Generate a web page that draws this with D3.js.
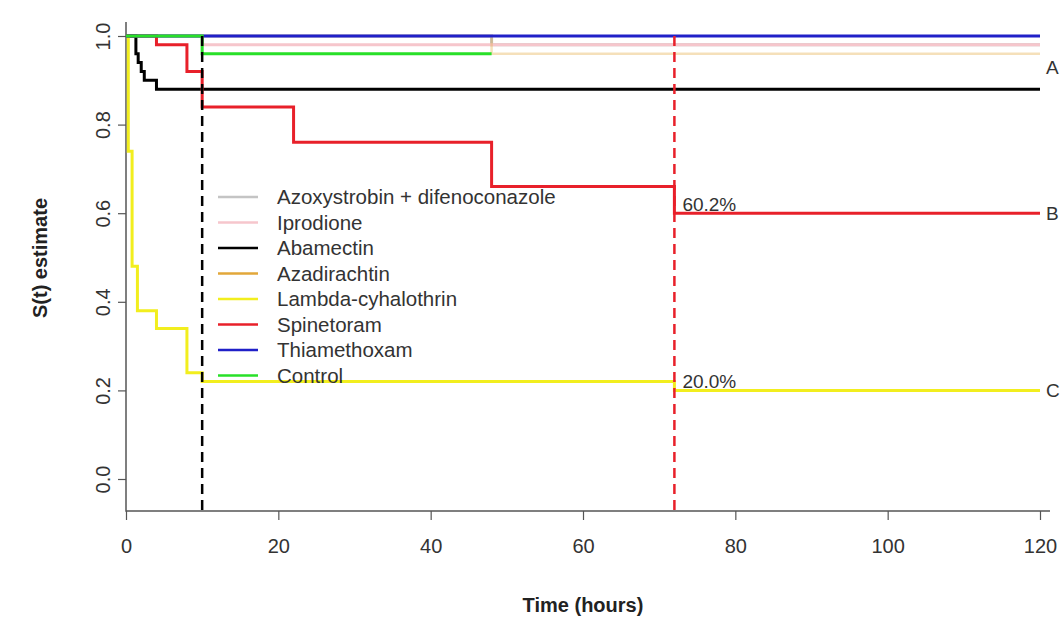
<!DOCTYPE html>
<html>
<head>
<meta charset="utf-8">
<script src="https://cdn.jsdelivr.net/npm/d3@7"></script>
<style>
  body { margin: 0; background: #fff; }
  text { font-family: "Liberation Sans", Arial, sans-serif; }
</style>
</head>
<body>
<svg id="chart" width="1063" height="617"></svg>
<script>
// Data (time in hours, survival estimate)

var treatments = ["Azoxystrobin + difenoconazole", "Iprodione", "Abamectin", "Azadirachtin",
                  "Lambda-cyhalothrin", "Spinetoram", "Thiamethoxam", "Control"];
var colors = ["#c4c4c4", "#f6c6cc", "#000000", "#e2a73a", "#f2ee1e", "#e8202a", "#2020c8", "#28e028"];

var azoxTime = [0, 48, 120],           azoxSurv = [1, 0.98, 0.98];
var iproTime = [0, 10, 120],           iproSurv = [1, 0.98, 0.98];
var abaTime  = [0, 1.3, 1.6, 2, 2.4, 4, 120], abaSurv = [1, 0.96, 0.94, 0.92, 0.90, 0.88, 0.88];
var azaTime  = [0, 48, 120],           azaSurv  = [1, 0.96, 0.96];
var lambTime = [0, 0.3, 0.8, 1.5, 4, 8, 10, 72, 120], lambSurv = [1, 0.74, 0.48, 0.38, 0.34, 0.24, 0.22, 0.20, 0.20];
var spinTime = [0, 4, 8, 10, 22, 48, 72, 120], spinSurv = [1, 0.98, 0.92, 0.84, 0.76, 0.66, 0.60, 0.60];
var thiaTime = [0, 120],               thiaSurv = [1, 1];
var ctrlTime = [0, 10, 48],            ctrlSurv = [1, 0.96, 0.96];

var allTimes = [azoxTime, iproTime, abaTime, azaTime, lambTime, spinTime, thiaTime, ctrlTime];
var allSurv  = [azoxSurv, iproSurv, abaSurv, azaSurv, lambSurv, spinSurv, thiaSurv, ctrlSurv];

var xTicks = [0, 20, 40, 60, 80, 100, 120];
var yTicks = [0, 0.2, 0.4, 0.6, 0.8, 1.0];
var cutTimes = [10, 72];
var cutColors = ["#000000", "#e8202a"];
var cutLabels = [{t: 72, s: 0.60, text: "60.2%"}, {t: 72, s: 0.20, text: "20.0%"}];
var groupLabels = [{s: 0.93, text: "A"}, {s: 0.60, text: "B"}, {s: 0.20, text: "C"}];

// Chart

var svg = d3.select("#chart");
var x = d3.scaleLinear().domain([0, 120]).range([126, 1040]);
var y = d3.scaleLinear().domain([0, 1]).range([479, 36]);
var xAxisY = 511;

// L-shaped frame
svg.append("path")
    .attr("d", "M126,22V" + xAxisY + "H1050")
    .attr("fill", "none")
    .attr("stroke", "#555")
    .attr("stroke-width", 1.5);

var yAxis = svg.append("g")
    .attr("transform", "translate(126,0)")
    .call(d3.axisLeft(y).tickValues(yTicks).tickFormat(d3.format(".1f")).tickSize(8));
yAxis.select(".domain").remove();
yAxis.selectAll("line").attr("stroke", "#555").attr("stroke-width", 1.2);
yAxis.selectAll("text")
    .attr("font-size", 20)
    .attr("fill", "#333")
    .attr("text-anchor", "middle")
    .attr("x", 0).attr("y", 0).attr("dy", null)
    .attr("transform", "translate(-16,0) rotate(-90)");

var xAxis = svg.append("g")
    .attr("transform", "translate(0," + xAxisY + ")")
    .call(d3.axisBottom(x).tickValues(xTicks).tickSize(9).tickPadding(19));
xAxis.select(".domain").remove();
xAxis.selectAll("line").attr("stroke", "#555").attr("stroke-width", 1.2);
xAxis.selectAll("text").attr("font-size", 20).attr("fill", "#333");

svg.append("text")
    .attr("transform", "translate(47,258) rotate(-90)")
    .attr("text-anchor", "middle")
    .attr("font-size", 20)
    .attr("font-weight", "bold")
    .attr("fill", "#222")
    .text("S(t) estimate");

svg.append("text")
    .attr("x", 583)
    .attr("y", 612)
    .attr("text-anchor", "middle")
    .attr("font-size", 20)
    .attr("font-weight", "bold")
    .attr("fill", "#222")
    .text("Time (hours)");

// Survival curves
var line = d3.line()
    .x(function(d) { return x(d[0]); })
    .y(function(d) { return y(d[1]); })
    .curve(d3.curveStepAfter);

treatments.forEach(function(name, i) {
    var pts = allTimes[i].map(function(t, j) { return [t, allSurv[i][j]]; });
    svg.append("path")
        .datum(pts)
        .attr("d", line)
        .attr("fill", "none")
        .attr("stroke", colors[i])
        .attr("stroke-width", i == 3 ? 2.5 : 3)
        .attr("stroke-opacity", i == 3 ? 0.35 : 1);
});

// Cut-off lines
cutTimes.forEach(function(t, i) {
    svg.append("line")
        .attr("x1", x(t)).attr("x2", x(t))
        .attr("y1", y(1)).attr("y2", xAxisY)
        .attr("stroke", cutColors[i])
        .attr("stroke-width", 2.5)
        .attr("stroke-dasharray", "10,6");
});

cutLabels.forEach(function(d) {
    svg.append("text")
        .attr("x", x(d.t) + 8)
        .attr("y", y(d.s) - 2)
        .attr("font-size", 19)
        .attr("fill", "#333")
        .text(d.text);
});

groupLabels.forEach(function(d) {
    svg.append("text")
        .attr("x", 1046)
        .attr("y", y(d.s) + 7)
        .attr("font-size", 19)
        .attr("fill", "#333")
        .text(d.text);
});

// Legend
var legend = svg.append("g").attr("transform", "translate(218,197)");
treatments.forEach(function(name, i) {
    var row = legend.append("g").attr("transform", "translate(0," + (i * 25.5) + ")");
    row.append("line")
        .attr("x1", 0).attr("x2", 40)
        .attr("stroke", colors[i])
        .attr("stroke-width", 2.5);
    row.append("text")
        .attr("x", 59)
        .attr("y", 7)
        .attr("font-size", 20.5)
        .attr("fill", "#333")
        .text(name);
});
</script>
</body>
</html>
